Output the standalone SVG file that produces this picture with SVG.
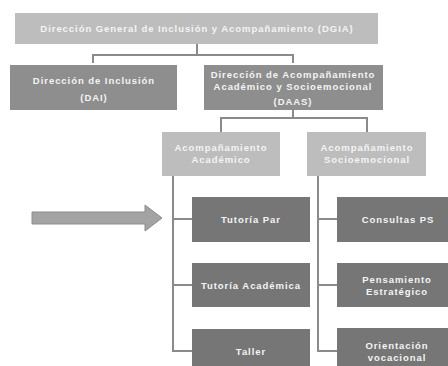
<svg xmlns="http://www.w3.org/2000/svg" width="448" height="366" viewBox="0 0 448 366">
<style>
.light{fill:#bdbdbd}
.mid{fill:#8e8e8e}
.dark{fill:#767676}
text{font-family:"Liberation Sans",Arial,sans-serif;font-weight:700;font-size:9.5px;letter-spacing:0.95px;fill:#f4f4f4;text-anchor:middle;dominant-baseline:central}
.conn{fill:none;stroke:#8a8a8a;stroke-width:2}
</style>
<rect width="448" height="366" fill="#ffffff"/>
<g id="connectors">
<path class="conn" d="M197,44 V55 M93,63 V55 H293 V63"/>
<path class="conn" d="M293,110 V118 M221,132 V118 H367 V132"/>
<path class="conn" d="M173,176 V351 H192 M173,219 H192 M173,285 H192"/>
<path class="conn" d="M318,176 V351 H337 M318,219 H337 M318,285 H337"/>
</g>
<g id="arrow">
<polygon points="32,212 145,212 145,205 162,218 145,231 145,224 32,224" fill="#a3a3a3" stroke="#8c8c8c" stroke-width="1"/>
</g>
<g id="dgia"><rect class="light" x="15" y="13" width="363" height="31"/><text x="197" y="28">Dirección General de Inclusión y Acompañamiento (DGIA)</text></g>
<g id="dai"><rect class="mid" x="10" y="65" width="167" height="45"/><text x="94" y="80">Dirección de Inclusión</text><text x="94" y="97">(DAI)</text></g>
<g id="daas"><rect class="mid" x="204" y="65" width="179" height="45"/><text x="293" y="74.5">Dirección de Acompañamiento</text><text x="293" y="86">Académico y Socioemocional</text><text x="293" y="101">(DAAS)</text></g>
<g id="acad"><rect class="light" x="162" y="132" width="118" height="44"/><text x="221" y="147.5">Acompañamiento</text><text x="221" y="159">Académico</text></g>
<g id="socio"><rect class="light" x="307" y="132" width="119" height="44"/><text x="367" y="147.5">Acompañamiento</text><text x="367" y="159">Socioemocional</text></g>
<g id="tutoria-par"><rect class="dark" x="192" y="197" width="118" height="45"/><text x="251" y="219">Tutoría Par</text></g>
<g id="tutoria-academica"><rect class="dark" x="192" y="263" width="118" height="44"/><text x="251" y="285">Tutoría Académica</text></g>
<g id="taller"><rect class="dark" x="192" y="329" width="118" height="45"/><text x="251" y="351">Taller</text></g>
<g id="consultas"><rect class="dark" x="337" y="197" width="115" height="45"/><text x="398" y="219">Consultas PS</text></g>
<g id="pensamiento"><rect class="dark" x="337" y="263" width="115" height="44"/><text x="397" y="279.5">Pensamiento</text><text x="397" y="291">Estratégico</text></g>
<g id="orientacion"><rect class="dark" x="337" y="328" width="115" height="45"/><text x="397" y="345.5">Orientación</text><text x="397" y="357">vocacional</text></g>
</svg>
